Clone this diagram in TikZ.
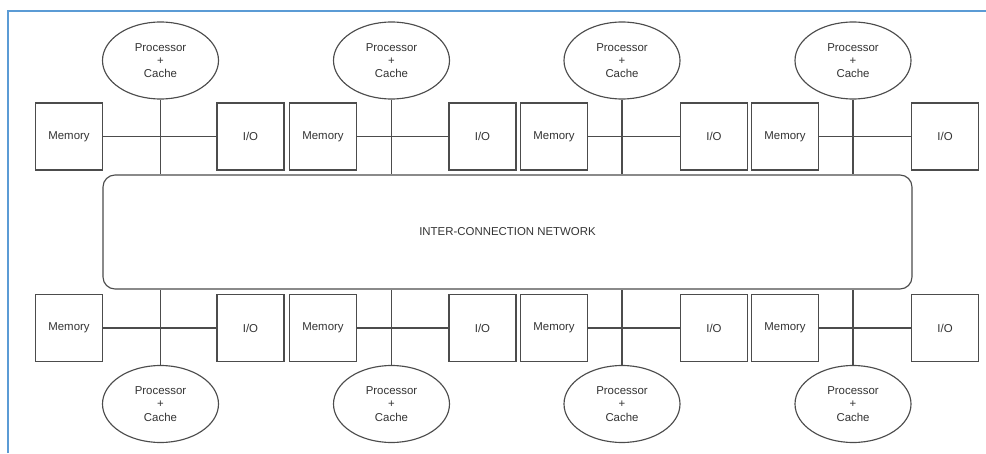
\documentclass[tikz,border=0pt]{standalone}
\usepackage{fontspec}
\setmainfont{Liberation Sans}
\usetikzlibrary{shapes.geometric}
\begin{document}
\begin{tikzpicture}[scale=1.0,
		every node/.style={font=\fontsize{6.5}{7.6}\selectfont, text=black!80},
		unit/.style={draw=black!70, line width=0.65pt, minimum width=1.34cm, minimum height=1.34cm, inner sep=0pt},
		cpu/.style={ellipse, draw=black!70, line width=0.65pt, minimum width=2.32cm, minimum height=1.54cm, inner sep=0pt, align=center},
		link/.style={draw=black!70, line width=0.65pt}]
			\useasboundingbox (0,0) rectangle (19.72,9.06);
			\draw[color={rgb,255:red,91;green,155;blue,213}, line width=1.5pt] (0.16,0) -- (0.16,8.84) -- (19.72,8.84);
			% network
			\node[draw=black!70, line width=0.65pt, rounded corners=0.24cm, minimum width=16.18cm, minimum height=2.28cm] (net) at (10.15,4.42) {INTER-CONNECTION NETWORK};
			% upper row
			\node[cpu] (pu1) at (3.21,7.85) {Processor\\+\\Cache};
			\node[cpu] (pu2) at (7.83,7.85) {Processor\\+\\Cache};
			\node[cpu] (pu3) at (12.44,7.85) {Processor\\+\\Cache};
			\node[cpu] (pu4) at (17.06,7.85) {Processor\\+\\Cache};
			\node[unit] (mu1) at (1.38,6.33) {Memory};
			\node[unit] (mu2) at (6.46,6.33) {Memory};
			\node[unit] (mu3) at (11.08,6.33) {Memory};
			\node[unit] (mu4) at (15.70,6.33) {Memory};
			\node[unit] (iu1) at (5.01,6.33) {I/O};
			\node[unit] (iu2) at (9.65,6.33) {I/O};
			\node[unit] (iu3) at (14.28,6.33) {I/O};
			\node[unit] (iu4) at (18.90,6.33) {I/O};
			% lower row
			\node[cpu] (pl1) at (3.21,0.98) {Processor\\+\\Cache};
			\node[cpu] (pl2) at (7.83,0.98) {Processor\\+\\Cache};
			\node[cpu] (pl3) at (12.44,0.98) {Processor\\+\\Cache};
			\node[cpu] (pl4) at (17.06,0.98) {Processor\\+\\Cache};
			\node[unit] (ml1) at (1.38,2.50) {Memory};
			\node[unit] (ml2) at (6.46,2.50) {Memory};
			\node[unit] (ml3) at (11.08,2.50) {Memory};
			\node[unit] (ml4) at (15.70,2.50) {Memory};
			\node[unit] (il1) at (5.01,2.50) {I/O};
			\node[unit] (il2) at (9.65,2.50) {I/O};
			\node[unit] (il3) at (14.28,2.50) {I/O};
			\node[unit] (il4) at (18.90,2.50) {I/O};
			% buses
			\draw[link] (pu1.south) -- (pu1.south |- net.north);
			\draw[link] (pu2.south) -- (pu2.south |- net.north);
			\draw[link] (pu3.south) -- (pu3.south |- net.north);
			\draw[link] (pu4.south) -- (pu4.south |- net.north);
			\draw[link] (pl1.north) -- (pl1.north |- net.south);
			\draw[link] (pl2.north) -- (pl2.north |- net.south);
			\draw[link] (pl3.north) -- (pl3.north |- net.south);
			\draw[link] (pl4.north) -- (pl4.north |- net.south);
			\draw[link] (mu1.east) -- (iu1.west);
			\draw[link] (mu2.east) -- (iu2.west);
			\draw[link] (mu3.east) -- (iu3.west);
			\draw[link] (mu4.east) -- (iu4.west);
			\draw[link] (ml1.east) -- (il1.west);
			\draw[link] (ml2.east) -- (il2.west);
			\draw[link] (ml3.east) -- (il3.west);
			\draw[link] (ml4.east) -- (il4.west);
		\end{tikzpicture}
\end{document}
